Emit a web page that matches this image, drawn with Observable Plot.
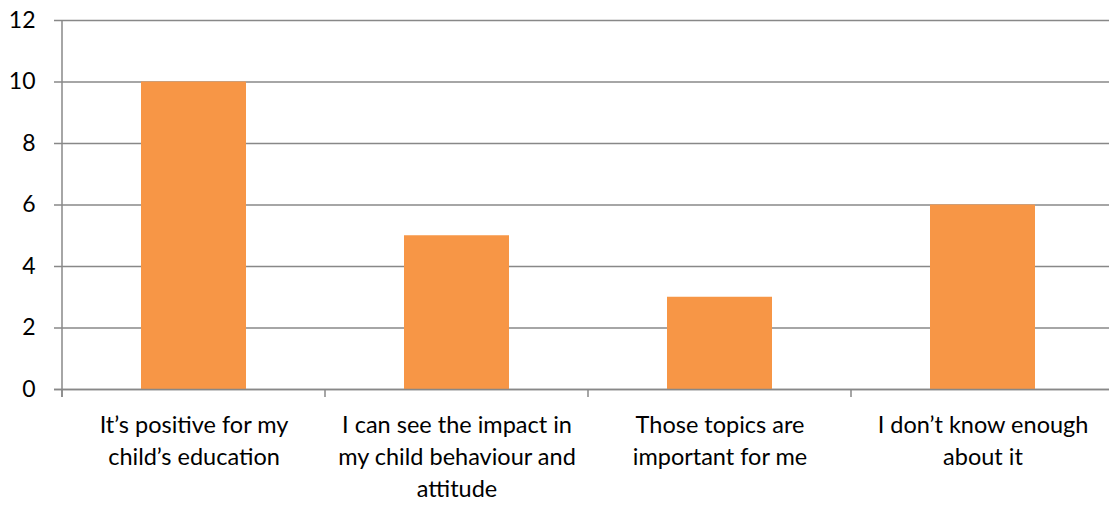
<!DOCTYPE html>
<html><head><meta charset="utf-8">
<script src="https://cdn.jsdelivr.net/npm/d3@7"></script>
<script src="https://cdn.jsdelivr.net/npm/@observablehq/plot@0.6"></script>
<style>html,body{margin:0;padding:0;background:#fff;} svg{display:block;}</style>
</head><body><div id="chart"></div>
<script>
const categories = ["It’s positive for my child’s education", "I can see the impact in my child behaviour and attitude", "Those topics are important for me", "I don’t know enough about it"];
const labels = ["It’s positive for my\nchild’s education", "I can see the impact in\nmy child behaviour and\nattitude", "Those topics are\nimportant for me", "I don’t know enough\nabout it"];
const values = [10, 5, 3, 6];
const yTicks = [0, 2, 4, 6, 8, 10, 12];

const data = categories.map((c, i) => ({category: c, value: values[i], label: labels[i]}));
const font = "Lato, 'Open Sans', sans-serif";

const separators = (index, scales, values, dims) => {
  const g = d3.create("svg:g");
  const x = scales.x, y = scales.y;
  const step = x(categories[1]) - x(categories[0]);
  const bw = x.bandwidth ? x.bandwidth() : step * 0.4;
  const y0 = y(0);
  for (const c of categories) {
    const bx = x(c) + bw / 2 - step / 2;
    g.append("line").attr("x1", bx).attr("x2", bx).attr("y1", y0).attr("y2", y0 + 8)
      .attr("stroke", "#888").attr("stroke-width", 1.5);
  }
  const lx = dims.marginLeft;
  g.append("line").attr("x1", lx).attr("x2", lx).attr("y1", y(12)).attr("y2", y0 + 8)
    .attr("stroke", "#888").attr("stroke-width", 1.5);
  return g.node();
};

const chart = Plot.plot({
  width: 1109,
  height: 505,
  marginLeft: 62,
  marginRight: 0,
  marginTop: 20,
  marginBottom: 116,
  style: {fontFamily: font, background: "#fff"},
  x: {domain: categories, range: [62, 1114], paddingInner: 0.6, paddingOuter: 0.3, axis: null},
  y: {domain: [0, 12], axis: null},
  marks: [
    Plot.ruleY(yTicks, {y: d => d, stroke: "#888", strokeWidth: 1.5, insetLeft: -8}),
    Plot.barY(data, {x: "category", y: "value", fill: "#F79646"}),
    Plot.ruleY([0], {stroke: "#888", strokeWidth: 1.5, insetLeft: -8}),
    Plot.text(yTicks, {y: d => d, frameAnchor: "left", dx: 35 - 62, text: d => String(d), textAnchor: "end", fontSize: 23, fill: "#000", fontFamily: font}),
    Plot.text(data, {x: "category", y: 0, text: "label", dy: 21, lineAnchor: "top", lineHeight: 1.36, fontSize: 23.5, fill: "#000", fontFamily: font}),
    separators
  ]
});
document.getElementById("chart").appendChild(chart);
</script></body></html>
